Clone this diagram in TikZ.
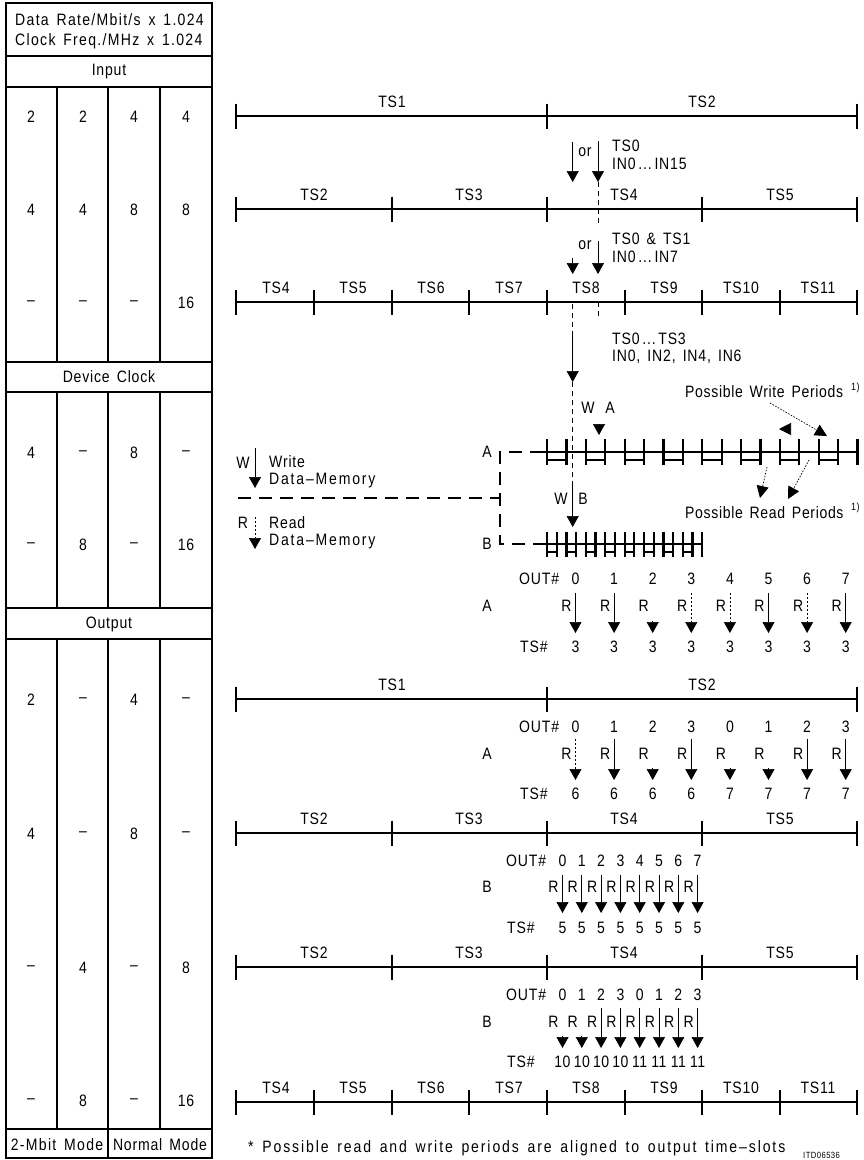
\documentclass[tikz,border=0pt]{standalone}
\usepackage{fontspec}
\setmainfont[LetterSpace=5,WordSpace=1.5,FakeStretch=0.85]{Liberation Sans}
\newfontfamily\widef[LetterSpace=11.5,WordSpace=1.5,FakeStretch=0.85,Ligatures=TeX]{Liberation Sans}
\newfontfamily\midf[LetterSpace=8,WordSpace=1.5,FakeStretch=0.85,Ligatures=TeX]{Liberation Sans}
\newfontfamily\legf[LetterSpace=11,WordSpace=1.5,FakeStretch=0.85,Ligatures=TeX]{Liberation Sans}
\newfontfamily\tightf[LetterSpace=3,FakeStretch=0.85]{Liberation Sans}
\newfontfamily\possf[LetterSpace=4,WordSpace=1.5,FakeStretch=0.85]{Liberation Sans}
\usetikzlibrary{arrows.meta}
\tikzset{
  x=1pt,y=-1pt,
  txt/.style={font=\fontsize{16.5}{18}\selectfont,inner sep=0pt,text=black},
  ltxt/.style={txt,anchor=west},
  frame/.style={line width=2pt},
  tline/.style={line width=2.2pt},
  tick/.style={line width=2pt},
  mtick/.style={line width=2.2pt},
  bar/.style={line width=2pt},
  bus/.style={line width=1.9pt,dash pattern=on 13pt off 8pt},
  stem/.style={line width=0.7pt,-{Triangle[length=11pt,width=12pt]}},
  dstem/.style={stem,dash pattern=on 2pt off 2pt},
  thin dash/.style={line width=0.6pt,dash pattern=on 5pt off 4pt},
  dotarrow/.style={line width=0.7pt,dash pattern=on 1.5pt off 1.5pt,-{Triangle[length=12pt,width=12pt]}},
}
\begin{document}
\begin{tikzpicture}
\useasboundingbox (0,0) rectangle (863,1160);
% ---- table frame
\draw[frame] (6,3) rectangle (212,1158);
\foreach \yy in {56,87,362,392,608,639,1129} \draw[frame] (6,\yy) -- (212,\yy);
\foreach \xx in {57,108,160} {
  \draw[frame] (\xx,87) -- (\xx,362);
  \draw[frame] (\xx,392) -- (\xx,608);
  \draw[frame] (\xx,639) -- (\xx,1129);
}
\draw[frame] (108,1129) -- (108,1158);
\node[ltxt,font=\fontsize{16.5}{18}\midf] (hd1) at (15,20) {Data Rate/Mbit/s x 1.024};
\node[ltxt,font=\fontsize{16.5}{18}\midf] (hd2) at (15,41) {Clock Freq./MHz x 1.024};
\node[txt] (inp) at (109,72) {Input};
\node[txt] (dev) at (109,377) {Device Clock};
\node[txt] (outp) at (109,624) {Output};
\node[txt,font=\fontsize{16.5}{18}\midf] (m2) at (57,1145) {2-Mbit Mode};
\node[txt] (mn) at (160,1145) {Normal Mode};
\foreach \yy/\a/\b/\c/\d in {
  117/2/2/4/4, 210/4/4/8/8, 303/--/--/--/16,
  453/4/--/8/--, 545/--/8/--/16,
  700/2/--/4/--, 834/4/--/8/--, 968/--/4/--/8, 1101/--/8/--/16} {
  \node[txt] (c1-\yy) at (31,\yy) {\a};
  \node[txt] (c2-\yy) at (83,\yy) {\b};
  \node[txt] (c3-\yy) at (134,\yy) {\c};
  \node[txt] (c4-\yy) at (186,\yy) {\d};
}
% ---- time lines
\foreach \yy in {116,209,302,699,833,967,1102} {
  \draw[tline] (236,\yy) -- (857,\yy);
  \foreach \xx in {236,547,857} \draw[tick] (\xx,\yy-12.5) -- (\xx,\yy+12.5);
}
\foreach \yy in {209,302,833,967,1102}
  \foreach \xx in {391.5,702} \draw[tick] (\xx,\yy-12.5) -- (\xx,\yy+12.5);
\foreach \yy in {302,1102}
  \foreach \xx in {313.7,469.2,624.7,779.7} \draw[tick] (\xx,\yy-12.5) -- (\xx,\yy+12.5);
\foreach \yy in {116,699} {
  \node[txt] (ts1-\yy) at (392,\yy-14) {TS1};
  \node[txt] (ts2-\yy) at (702,\yy-14) {TS2};
}
\foreach \yy in {209,833,967} {
  \node[txt] (tsa-\yy) at (314,\yy-14) {TS2};
  \node[txt] (tsb-\yy) at (469,\yy-14) {TS3};
  \node[txt] (tsc-\yy) at (624,\yy-14) {TS4};
  \node[txt] (tsd-\yy) at (780,\yy-14) {TS5};
}
\foreach \yy in {302,1102} {
  \node[txt] (tse-\yy) at (276,\yy-14) {TS4};
  \node[txt] (tsf-\yy) at (353,\yy-14) {TS5};
  \node[txt] (tsg-\yy) at (431,\yy-14) {TS6};
  \node[txt] (tsh-\yy) at (509,\yy-14) {TS7};
  \node[txt] (tsi-\yy) at (586,\yy-14) {TS8};
  \node[txt] (tsj-\yy) at (664,\yy-14) {TS9};
  \node[txt] (tsk-\yy) at (741,\yy-14) {TS10};
  \node[txt] (tsl-\yy) at (818,\yy-14) {TS11};
}
% ---- input arrows and labels
\draw[stem] (572.7,142) -- (572.7,182);
\draw[stem] (598,141) -- (598,182);
\draw[thin dash] (598,182) -- (598,226);
\node[txt] (or1) at (585,152) {or};
\node[ltxt] (in1a) at (612,146) {TS0};
\node[ltxt] (in1b) at (612,164) {IN0\,...\,IN15};
\draw[stem] (572.7,258) -- (572.7,274);
\draw[stem] (598,241) -- (598,274);
\draw[thin dash] (598,302) -- (598,318);
\node[txt] (or2) at (585,245) {or};
\node[ltxt] (in2a) at (612,239) {TS0 \& TS1};
\node[ltxt] (in2b) at (612,257) {IN0\,...\,IN7};
\draw[thin dash] (572.7,304) -- (572.7,335);
\draw[stem] (572.7,335) -- (572.7,382);
\draw[thin dash] (572.7,382) -- (572.7,483);
\node[ltxt] (in3a) at (612,339) {TS0\,...\,TS3};
\node[ltxt] (in3b) at (612,357) {IN0, IN2, IN4, IN6};
% ---- data memory A
\draw[tline] (543,452) -- (857,452);
\foreach \i in {0,...,16} \draw[mtick] (547+\i*19.4,439) -- (547+\i*19.4,465);
\foreach \i in {0,...,7} \draw[bar] (547+\i*38.8,460) -- (547+\i*38.8+19.4,460);
% ---- data memory B
\draw[tline] (543,544) -- (703,544);
\foreach \i in {0,...,16} \draw[mtick] (547+\i*9.7,532) -- (547+\i*9.7,557);
\foreach \i in {0,...,7} \draw[bar] (547+\i*19.4,552) -- (547+\i*19.4+9.7,552);
% ---- bus
\coordinate (busA) at (543,452);
\coordinate (busB) at (543,544);
\coordinate (busC) at (500,452);
\coordinate (busD) at (500,544);
\coordinate (busL) at (238,498);
\coordinate (busM) at (500,498);
\draw[bus] (busA) -- (busC) -- (busD) -- (busB);
\draw[bus] (busL) -- (busM);
\node[txt] (la) at (487,452) {A};
\node[txt] (lb) at (487,544) {B};
\node[txt] (wa1) at (588,408) {W};
\node[txt] (wa2) at (610,408) {A};
\draw[stem] (599,424) -- (599,435);
\node[txt] (wb1) at (561,499) {W};
\node[txt] (wb2) at (583,499) {B};
\draw[stem] (572.7,483) -- (572.7,527);
% ---- legend
\node[txt] (lw) at (243,463) {W};
\draw[stem] (255,448) -- (255,488);
\node[ltxt] (lw1) at (269,462) {Write};
\node[ltxt,font=\fontsize{16.5}{18}\legf] (lw2) at (269,481) {Data--Memory};
\node[txt] (lr) at (243,523) {R};
\draw[dstem] (255,517) -- (255,549);
\node[ltxt] (lr1) at (269,523) {Read};
\node[ltxt,font=\fontsize{16.5}{18}\legf] (lr2) at (269,542) {Data--Memory};
% ---- possible periods
\node[ltxt,font=\fontsize{16.5}{18}\possf] (pw) at (685,392) {Possible Write Periods};
\node[ltxt,font=\fontsize{10.5}{11}\selectfont] (pw1) at (851,388) {1)};
\node[ltxt,font=\fontsize{16.5}{18}\possf] (pr) at (685,513) {Possible Read Periods};
\node[ltxt,font=\fontsize{10.5}{11}\selectfont] (pr1) at (851,508) {1)};
\coordinate (pwa) at (770,403);
\coordinate (pwb) at (827,436);
\coordinate (pwc) at (790,429);
\coordinate (pwd) at (779,429);
\draw[dotarrow] (pwa) -- (pwb);
\draw[dotarrow] (pwc) -- (pwd);
\draw[dotarrow] (767,467) -- (760,498);
\draw[dotarrow] (809,460) -- (788,499);
% ---- OUT / TS groups
\node[ltxt] (o1) at (519,579) {OUT\#};
\node[txt] (ga1) at (487,606) {A};
\node[ltxt] (s1) at (520,647) {TS\#};
\foreach \i in {0,...,7} {
  \pgfmathsetmacro\xx{575.5+\i*38.6}
  \node[txt] (oa\i) at (\xx,579) {\i};
  \node[txt] (ra\i) at (\xx-9,606) {R};
  \node[txt] (sa\i) at (\xx,647) {3};
}
\foreach \i/\m in {0/stem,1/stem,3/dstem,4/dstem,5/stem,6/dstem,7/stem} {
  \pgfmathsetmacro\xx{575.5+\i*38.6}
  \draw[\m] (\xx,593) -- (\xx,633);
}
\draw[stem] (652.7,621) -- (652.7,633);
\node[ltxt] (o2) at (519,727) {OUT\#};
\node[txt] (ga2) at (487,754) {A};
\node[ltxt] (s2) at (520,794) {TS\#};
\foreach \i/\d/\e in {0/0/6,1/1/6,2/2/6,3/3/6,4/0/7,5/1/7,6/2/7,7/3/7} {
  \pgfmathsetmacro\xx{575.5+\i*38.6}
  \node[txt] (ob\i) at (\xx,727) {\d};
  \node[txt] (rb\i) at (\xx-9,754) {R};
  \node[txt] (sb\i) at (\xx,794) {\e};
}
\foreach \i/\m in {0/dstem,1/stem,3/stem,6/stem,7/stem} {
  \pgfmathsetmacro\xx{575.5+\i*38.6}
  \draw[\m] (\xx,739) -- (\xx,780);
}
\foreach \i in {2,4,5} {
  \pgfmathsetmacro\xx{575.5+\i*38.6}
  \draw[stem] (\xx,768) -- (\xx,780);
}
\node[ltxt] (o3) at (506,861) {OUT\#};
\node[txt] (gb3) at (487,887) {B};
\node[ltxt] (s3) at (507,928) {TS\#};
\foreach \i in {0,...,7} {
  \pgfmathsetmacro\xx{562.5+\i*19.3}
  \node[txt] (oc\i) at (\xx,861) {\i};
  \node[txt] (rc\i) at (\xx-9,887) {R};
  \node[txt] (sc\i) at (\xx,928) {5};
  \draw[stem] (\xx,875) -- (\xx,913);
}
\node[ltxt] (o4) at (506,995) {OUT\#};
\node[txt] (gb4) at (487,1022) {B};
\node[ltxt] (s4) at (507,1062) {TS\#};
\foreach \i/\d/\e in {0/0/10,1/1/10,2/2/10,3/3/10,4/0/11,5/1/11,6/2/11,7/3/11} {
  \pgfmathsetmacro\xx{562.5+\i*19.3}
  \node[txt] (od\i) at (\xx,995) {\d};
  \node[txt] (rd\i) at (\xx-9,1022) {R};
  \node[txt,font=\fontsize{16.5}{18}\tightf] (sd\i) at (\xx,1062) {\e};
}
\foreach \i in {0,1} {
  \pgfmathsetmacro\xx{562.5+\i*19.3}
  \draw[stem] (\xx,1036) -- (\xx,1048);
}
\foreach \i in {2,...,7} {
  \pgfmathsetmacro\xx{562.5+\i*19.3}
  \draw[stem] (\xx,1008) -- (\xx,1048);
}
% ---- footnote
\node[ltxt,font=\fontsize{16.5}{18}\widef] (fn) at (248,1148) {* Possible read and write periods are aligned to output time--slots};
\node[ltxt,font=\fontsize{9}{10}\selectfont] (id) at (803,1155) {ITD06536};
\end{tikzpicture}
\end{document}
